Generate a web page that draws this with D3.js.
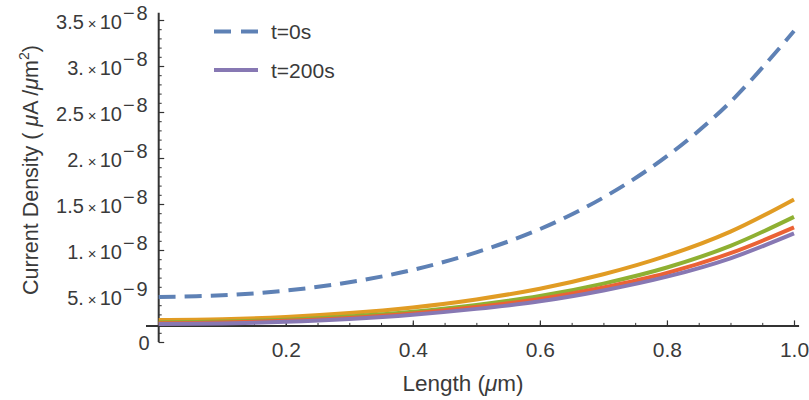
<!DOCTYPE html>
<html>
<head>
<meta charset="utf-8">
<script src="https://cdn.jsdelivr.net/npm/d3@7"></script>
<style>
  body { margin: 0; background: #fff; }
  svg { display: block; font-family: "Liberation Sans", Arial, sans-serif; }
</style>
</head>
<body>
<div id="chart"></div>
<script>
// values in units of 1e-9 uA/um^2
const lengths = [0, 0.1, 0.2, 0.3, 0.4, 0.5, 0.6, 0.7, 0.8, 0.9, 1.0];
const densityT0 = [4.9, 5.07, 5.59, 6.49, 7.84, 9.75, 12.27, 15.7, 20.2, 26.1, 33.8];
const densityOrange = [2.40, 2.48, 2.72, 3.14, 3.76, 4.63, 5.79, 7.36, 9.38, 12.0, 15.5];
const densityGreen = [2.15, 2.22, 2.42, 2.78, 3.3, 4.03, 5.0, 6.35, 8.1, 10.45, 13.6];
const densityRed = [2.05, 2.11, 2.3, 2.62, 3.11, 3.8, 4.68, 5.92, 7.5, 9.65, 12.45];
const densityT200 = [1.95, 2.01, 2.19, 2.5, 2.96, 3.6, 4.42, 5.6, 7.1, 9.1, 11.8];

const xTicks = [0.2, 0.4, 0.6, 0.8, 1.0];
const xTickLabels = ["0.2", "0.4", "0.6", "0.8", "1.0"];
const yTicks = [0, 5, 10, 15, 20, 25, 30, 35];
const yTickMantissa = ["0", "5.", "1.", "1.5", "2.", "2.5", "3.", "3.5"];
const yTickExponent = ["", "−9", "−8", "−8", "−8", "−8", "−8", "−8"];
const legendLabels = ["t=0s", "t=200s"];

const colors = ["#5E81B5", "#E19C24", "#8FB032", "#EB6235", "#8778B3"];
const series = [densityT0, densityOrange, densityGreen, densityRed, densityT200];

const svg = d3.select("#chart").append("svg")
    .attr("width", 809)
    .attr("height", 400);

const x = d3.scaleLinear().domain([0, 1]).range([158.7, 794]);
const y = d3.scaleLinear().domain([0, 35]).range([342, 20]);
const axisColor = "#333";
const textColor = "#3a3a3a";
const xAxisAt = 1.75; // axes cross here

// y axis
const yAxisG = svg.append("g").attr("transform", `translate(${x(0)},0)`);
yAxisG.append("line")
    .attr("y1", y(0)).attr("y2", y(35.8))
    .attr("stroke", axisColor).attr("stroke-width", 2);
yAxisG.append("g")
    .call(d3.axisLeft(y).tickValues(d3.range(0, 36, 1)).tickSizeInner(-3).tickSizeOuter(0).tickFormat(""))
    .call(g => g.select(".domain").remove())
    .call(g => g.selectAll("line").attr("stroke", axisColor).attr("stroke-width", 1));
yAxisG.append("g")
    .call(d3.axisLeft(y).tickValues(yTicks).tickSizeInner(-5.5).tickSizeOuter(0).tickFormat(""))
    .call(g => g.select(".domain").remove())
    .call(g => g.selectAll("line").attr("stroke", axisColor).attr("stroke-width", 1.2));

const yLabels = yAxisG.append("g").selectAll("text").data(yTicks).join("text")
    .attr("x", -9)
    .attr("y", d => y(d) + (d === 0 ? 7.5 : 9))
    .attr("text-anchor", "end")
    .attr("fill", textColor)
    .style("font-size", "20px");
yLabels.each(function(d, i) {
    const t = d3.select(this);
    t.append("tspan").text(yTickMantissa[i]);
    if (yTickExponent[i]) {
        t.append("tspan").attr("dx", 4).style("font-size", "15px").text("×");
        t.append("tspan").attr("dx", 3).text("10");
        t.append("tspan").attr("dy", -9).attr("dx", 1).style("font-size", "20px")
            .style("letter-spacing", "2px").text(yTickExponent[i]);
    }
});

// x axis
const xAxisG = svg.append("g").attr("transform", `translate(0,${y(xAxisAt)})`);
xAxisG.append("line")
    .attr("x1", x(-0.02)).attr("x2", x(1.008))
    .attr("stroke", axisColor).attr("stroke-width", 2);
xAxisG.append("g")
    .call(d3.axisBottom(x).tickValues(d3.range(1, 21).map(i => i * 0.05)).tickSizeInner(-3).tickSizeOuter(0).tickFormat(""))
    .call(g => g.select(".domain").remove())
    .call(g => g.selectAll("line").attr("stroke", axisColor).attr("stroke-width", 1));
xAxisG.append("g")
    .call(d3.axisBottom(x).tickValues(xTicks).tickSizeInner(-5.5).tickSizeOuter(0)
        .tickFormat((d, i) => xTickLabels[i]).tickPadding(16))
    .call(g => g.select(".domain").remove())
    .call(g => g.selectAll("line").attr("stroke", axisColor).attr("stroke-width", 1.2))
    .call(g => g.selectAll("text").attr("fill", textColor).style("font-size", "21px")
        .style("font-family", "'Liberation Sans', Arial, sans-serif"));

// curves
const line = d3.line()
    .x((d, i) => x(lengths[i]))
    .y(d => y(d))
    .curve(d3.curveCatmullRom);

svg.append("g").selectAll("path").data(series).join("path")
    .attr("d", d => line(d))
    .attr("fill", "none")
    .attr("stroke", (d, i) => colors[i])
    .attr("stroke-width", 4)
    .attr("stroke-dasharray", (d, i) => i === 0 ? "17,9" : null);

// legend
const legend = svg.append("g");
const legendRows = [{ y: 31.5, color: colors[0], dash: "17,10" }, { y: 70, color: colors[4], dash: null }];
legendRows.forEach((r, i) => {
    legend.append("line")
        .attr("x1", 214).attr("x2", 258).attr("y1", r.y).attr("y2", r.y)
        .attr("stroke", r.color).attr("stroke-width", 4)
        .attr("stroke-dasharray", r.dash);
    legend.append("text")
        .attr("x", 271).attr("y", r.y + 7.5)
        .attr("fill", textColor)
        .style("font-size", "21px")
        .text(legendLabels[i]);
});

// axis titles
svg.append("text")
    .attr("x", 463).attr("y", 391)
    .attr("text-anchor", "middle")
    .attr("fill", textColor)
    .style("font-size", "22.5px")
    .html("Length (<tspan font-style='italic'>μ</tspan>m)");

svg.append("text")
    .attr("transform", "translate(38,170) rotate(-90)")
    .attr("text-anchor", "middle")
    .attr("fill", textColor)
    .style("font-size", "21.5px")
    .html("Current Density ( <tspan font-style='italic'>μ</tspan>A /<tspan font-style='italic'>μ</tspan>m<tspan dy='-9' font-size='14px'>2</tspan><tspan dy='9'>)</tspan>");
</script>
</body>
</html>
